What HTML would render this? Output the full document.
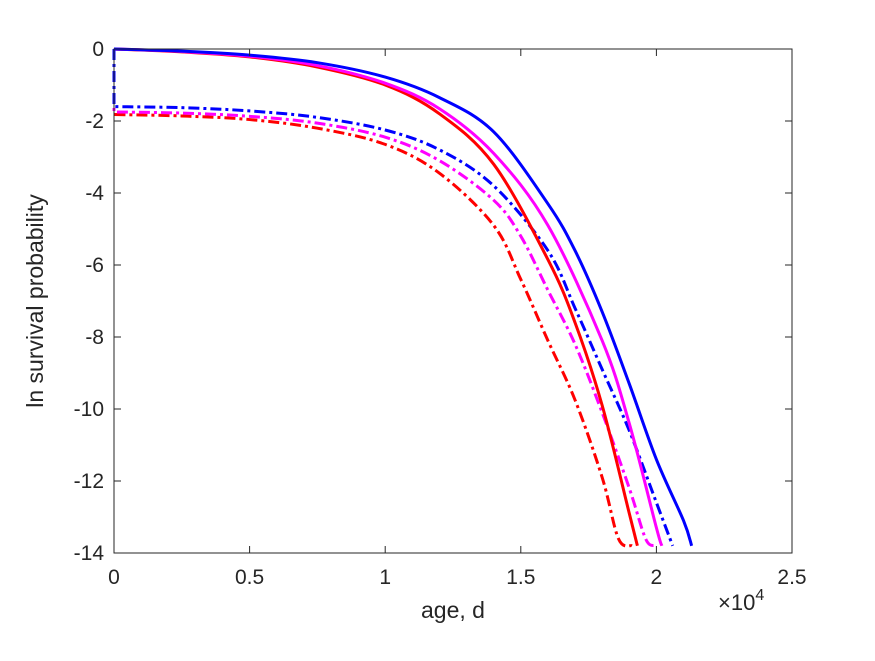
<!DOCTYPE html>
<html><head><meta charset="utf-8"><style>
body{margin:0;background:#fff;}
svg text{font-family:"Liberation Sans",Arial,sans-serif;fill:#262626;}
</style></head><body>
<svg width="875" height="656" viewBox="0 0 875 656">
<rect width="875" height="656" fill="#fff"/>
<g id="plot"></g>
<g id="axes"></g>
</svg>
<script>
const xTicks=[0,0.5,1,1.5,2,2.5];
const xTickLabels=["0","0.5","1","1.5","2","2.5"];
const yTicks=[0,-2,-4,-6,-8,-10,-12,-14];
const yTickLabels=["0","-2","-4","-6","-8","-10","-12","-14"];
const blueSolidX=[0,0.25,0.5,0.75,1.0,1.2,1.4,1.6,1.7,1.8,1.9,2.0,2.1,2.13];
const blueSolidY=[0,-0.06,-0.17,-0.38,-0.78,-1.35,-2.3,-4.3,-5.6,-7.3,-9.3,-11.4,-13.1,-13.8];
const magentaSolidX=[0,0.25,0.5,0.75,1.0,1.2,1.4,1.6,1.8,1.9,2.0,2.02];
const magentaSolidY=[0,-0.07,-0.2,-0.46,-0.95,-1.66,-2.9,-4.9,-8.1,-10.4,-13.3,-13.8];
const redSolidX=[0,0.25,0.5,0.75,1.0,1.2,1.4,1.6,1.7,1.8,1.9,1.93];
const redSolidY=[0,-0.08,-0.22,-0.5,-1.0,-1.8,-3.2,-5.85,-7.6,-9.9,-12.9,-13.8];
const blueDashX=[0,0,0.25,0.5,0.75,1.0,1.2,1.4,1.6,1.7,1.8,1.9,2.0,2.06];
const blueDashY=[0,-1.6,-1.63,-1.72,-1.9,-2.25,-2.8,-3.8,-5.6,-7.2,-8.9,-10.6,-12.6,-13.8];
const magentaDashX=[0,0,0.25,0.5,0.75,1.0,1.2,1.4,1.5,1.6,1.7,1.8,1.9,1.96,1.995];
const magentaDashY=[0,-1.75,-1.78,-1.87,-2.06,-2.45,-3.1,-4.2,-5.2,-6.7,-8.2,-10.1,-12.2,-13.6,-13.8];
const redDashX=[0,0,0.25,0.5,0.75,1.0,1.2,1.4,1.5,1.6,1.7,1.8,1.86,1.91];
const redDashY=[0,-1.82,-1.86,-1.96,-2.2,-2.65,-3.45,-4.9,-6.4,-8.1,-9.75,-11.9,-13.6,-13.8];

const L=114,R=792,T=49,B=553;
const xs=v=>L+(v-0)/2.5*(R-L);
const ys=v=>T+(0-v)/14*(B-T);
const NS="http://www.w3.org/2000/svg";
const plot=document.getElementById('plot'),axes=document.getElementById('axes');
function mk(tag,attrs,parent){const e=document.createElementNS(NS,tag);for(const k in attrs)e.setAttribute(k,attrs[k]);parent.appendChild(e);return e;}
function pathFor(X,Y){
  let p=X.map((x,i)=>[xs(x),ys(Y[i])]);
  let d="M"+p[0][0]+","+p[0][1];
  if(p.length>1&&p[1][0]===p[0][0]){d+=" L"+p[1][0]+","+p[1][1];p=p.slice(1);}
  for(let i=0;i<p.length-1;i++){
    const p0=p[Math.max(i-1,0)],p1=p[i],p2=p[i+1],p3=p[Math.min(i+2,p.length-1)];
    const c1x=p1[0]+(p2[0]-p0[0])/6,c1y=p1[1]+(p2[1]-p0[1])/6;
    const c2x=p2[0]-(p3[0]-p1[0])/6,c2y=p2[1]-(p3[1]-p1[1])/6;
    d+=" C"+c1x+","+c1y+" "+c2x+","+c2y+" "+p2[0]+","+p2[1];
  }
  return d;
}
const series=[
 [redDashX,redDashY,"#ff0000",true,"red-dashdot-line"],
 [magentaDashX,magentaDashY,"#ff00ff",true,"magenta-dashdot-line"],
 [blueDashX,blueDashY,"#0000ff",true,"blue-dashdot-line"],
 [redSolidX,redSolidY,"#ff0000",false,"red-solid-line"],
 [magentaSolidX,magentaSolidY,"#ff00ff",false,"magenta-solid-line"],
 [blueSolidX,blueSolidY,"#0000ff",false,"blue-solid-line"]
];
series.forEach(s=>{
  const a={d:pathFor(s[0],s[1]),fill:"none",stroke:s[2],"stroke-width":3,"stroke-linejoin":"round"};
  if(s[3])a["stroke-dasharray"]="11,4,3,4";
  const e=mk('path',a,plot);
  
  
});
const box=mk('rect',{x:L,y:T,width:R-L,height:B-T,fill:"none",stroke:"#262626","stroke-width":1},axes);


xTicks.forEach((v,i)=>{
  const x=xs(v);
  mk('line',{x1:x,y1:B,x2:x,y2:B-7,stroke:"#262626"},axes);
  mk('line',{x1:x,y1:T,x2:x,y2:T+7,stroke:"#262626"},axes);
  const t=mk('text',{x:x,y:B+31,"text-anchor":"middle","font-size":21},axes);
  t.textContent=xTickLabels[i];
  
  
});
yTicks.forEach((v,i)=>{
  const y=ys(v);
  mk('line',{x1:L,y1:y,x2:L+7,y2:y,stroke:"#262626"},axes);
  mk('line',{x1:R,y1:y,x2:R-7,y2:y,stroke:"#262626"},axes);
  const t=mk('text',{x:L-10,y:y+7,"text-anchor":"end","font-size":21},axes);
  t.textContent=yTickLabels[i];
  
  
});
</script>
<svg width="875" height="656" style="position:absolute;left:0;top:0">
<text x="453" y="618" text-anchor="middle" font-size="23">age, d</text>
<text x="718" y="610" font-size="22">×10<tspan dy="-10" font-size="16">4</tspan></text>
<text transform="translate(43,301) rotate(-90)" text-anchor="middle" font-size="23">ln survival probability</text>
</svg>
</body></html>
